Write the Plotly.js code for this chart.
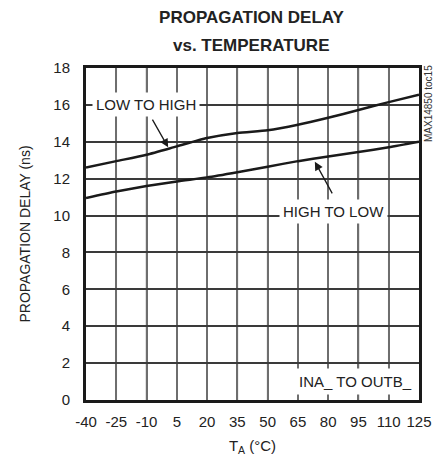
<!DOCTYPE html>
<html>
<head>
<meta charset="utf-8">
<script src="https://cdn.plot.ly/plotly-3.0.1.min.js"></script>
<style>html,body{margin:0;padding:0;background:#fff;}#chart{width:443px;height:462px;}</style>
</head>
<body>
<div id="chart"></div>
<script>
const temperature = [-40, -25, -10, 5, 20, 35, 50, 65, 80, 95, 110, 125];
const lowToHigh = [12.6, 12.95, 13.3, 13.75, 14.2, 14.48, 14.62, 14.92, 15.3, 15.72, 16.15, 16.55];
const highToLow = [10.95, 11.3, 11.6, 11.85, 12.07, 12.35, 12.65, 12.95, 13.2, 13.45, 13.7, 14.0];
const xTicks = [-40, -25, -10, 5, 20, 35, 50, 65, 80, 95, 110, 125];
const xTickLabels = ['-40', '-25', '-10', '5', '20', '35', '50', '65', '80', '95', '110', '125'];
const yTicks = [0, 2, 4, 6, 8, 10, 12, 14, 16, 18];
const yTickLabels = ['0', '2', '4', '6', '8', '10', '12', '14', '16', '18'];

const FONT = '"Liberation Sans", Arial, Helvetica, sans-serif';

const traces = [
  {x: temperature, y: lowToHigh, mode: 'lines', line: {color: '#1a1a1a', width: 2.5, shape: 'spline', smoothing: 0.6}, hoverinfo: 'skip'},
  {x: temperature, y: highToLow, mode: 'lines', line: {color: '#1a1a1a', width: 2.5, shape: 'spline', smoothing: 0.6}, hoverinfo: 'skip'}
];

// vertical grid lines at each x tick (built from the tick array)
const gridShapes = xTicks.slice(1, -1).map(function (t) {
  return {type: 'line', xref: 'x', yref: 'paper', x0: t, x1: t, y0: 0, y1: 1,
          layer: 'between', line: {color: '#6e6e6e', width: 1.5}};
});

const layout = {
  width: 443, height: 462,
  margin: {l: 86, r: 24, t: 68, b: 62},
  paper_bgcolor: '#fff', plot_bgcolor: '#fff',
  showlegend: false,
  hovermode: false,
  font: {family: FONT, size: 15, color: '#222'},
  title: {
    text: '<b>PROPAGATION DELAY</b>',
    font: {family: FONT, size: 17, color: '#222'},
    x: 0.497, xanchor: 'center', xref: 'paper',
    y: 1 - 17/462, yanchor: 'middle', yref: 'container'
  },
  xaxis: {
    range: [-40, 125], tickmode: 'array', tickvals: xTicks, ticktext: xTickLabels,
    showgrid: true, gridcolor: '#6e6e6e', gridwidth: 1.5,
    showline: true, linecolor: '#1a1a1a', linewidth: 3, mirror: true,
    ticks: 'outside', ticklen: 6, tickcolor: 'rgba(255,255,255,0)', zeroline: false, fixedrange: true,
    tickfont: {family: FONT, size: 15, color: '#222'},
    title: {text: 'T<sub>A</sub> (°C)', font: {family: FONT, size: 15, color: '#222'}, standoff: 12}
  },
  yaxis: {
    range: [0, 18], tickmode: 'array', tickvals: yTicks, ticktext: yTickLabels,
    showgrid: true, gridcolor: '#3a3a3a', gridwidth: 1.5,
    showline: true, linecolor: '#1a1a1a', linewidth: 3, mirror: true,
    ticks: '', zeroline: false, ticklabelstandoff: 10, fixedrange: true,
    tickfont: {family: FONT, size: 15, color: '#222'},
    title: {text: 'PROPAGATION DELAY (ns)', font: {family: FONT, size: 14, color: '#222'}, standoff: 20}
  },
  shapes: gridShapes,
  annotations: [
    {x: 0.7, y: 13.7, ax: -7.5, ay: 15.28, axref: 'x', ayref: 'y', xref: 'x', yref: 'y',
     text: '', showarrow: true, arrowhead: 2, arrowsize: 1.3, arrowwidth: 1.3, arrowcolor: '#1a1a1a'},
    {x: 73.4, y: 12.92, ax: 82.4, ay: 11.12, axref: 'x', ayref: 'y', xref: 'x', yref: 'y',
     text: '', showarrow: true, arrowhead: 2, arrowsize: 1.3, arrowwidth: 1.3, arrowcolor: '#1a1a1a'},
    {x: -10.3, y: 16.0, xref: 'x', yref: 'y', text: 'LOW TO HIGH', showarrow: false,
     bgcolor: '#fff', borderpad: 3, font: {family: FONT, size: 15, color: '#222'}},
    {x: 82.8, y: 10.2, xref: 'x', yref: 'y', text: 'HIGH TO LOW', showarrow: false,
     bgcolor: '#fff', borderpad: 3, font: {family: FONT, size: 15, color: '#222'}},
    {x: 93.5, y: 1.0, xref: 'x', yref: 'y', text: 'INA_ TO OUTB_', showarrow: false,
     bgcolor: '#fff', borderpad: 4, font: {family: FONT, size: 15, color: '#222'}},
    {x: (428 - 86) / 333, y: (400 - 104) / 332, xref: 'paper', yref: 'paper', xanchor: 'center', yanchor: 'middle',
     text: 'MAX14850 toc15', showarrow: false, textangle: -90, font: {family: FONT, size: 10, color: '#333'}},
    {x: 0.497, y: (400 - 45) / 332, xref: 'paper', yref: 'paper', xanchor: 'center', yanchor: 'middle',
     text: '<b>vs. TEMPERATURE</b>', showarrow: false, font: {family: FONT, size: 17, color: '#222'}}
  ]
};

Plotly.newPlot('chart', traces, layout, {displayModeBar: false});
</script>
</body>
</html>
